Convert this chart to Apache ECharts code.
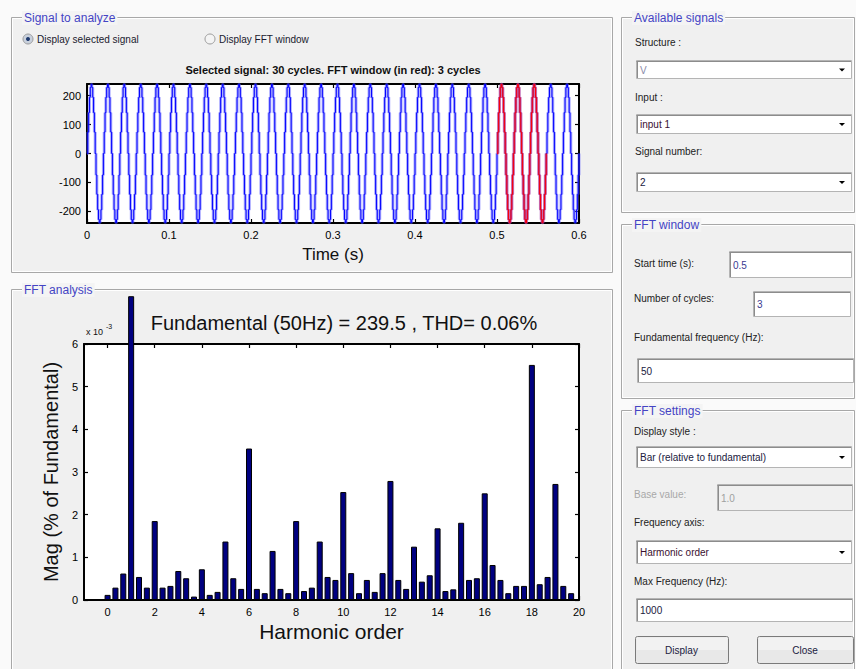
<!DOCTYPE html>
<html>
<head>
<meta charset="utf-8">
<title>FFT Analysis</title>
<script src="https://cdn.jsdelivr.net/npm/echarts@6/dist/echarts.min.js"></script>
<style>
html, body { margin: 0; padding: 0; background: #fafafa; }
#main { width: 856px; height: 669px; }
</style>
</head>
<body>
<div id="main"></div>
<script>
var cycleSamples = [0, 74, 141, 194, 228, 239.5, 228, 194, 141, 74,
                    0, -74, -141, -194, -228, -239.5, -228, -194, -141, -74];
var numCycles = 30;
var samplePeriod = 0.001;
var fftStart = 0.5;
var fftCycles = 3;
var timeTicks = [0, 0.1, 0.2, 0.3, 0.4, 0.5, 0.6];
var voltTicks = [-200, -100, 0, 100, 200];

// spectrum, x 10^-3 (% of fundamental), one bin every 1/3 harmonic
// the fundamental bar runs off the top of the axes, the visible part is kept
var magnitudes = [0.12, 0.29, 0.62, 7.12, 0.54, 0.29, 1.85, 0.29, 0.33, 0.68,
                  0.51, 0.08, 0.72, 0.12, 0.19, 1.37, 0.51, 0.26, 3.55, 0.26,
                  0.16, 1.15, 0.26, 0.16, 1.85, 0.21, 0.29, 1.37, 0.54, 0.47,
                  2.53, 0.63, 0.16, 0.47, 0.19, 0.63, 2.79, 0.47, 0.26, 1.25,
                  0.43, 0.58, 1.68, 0.21, 0.25, 1.81, 0.47, 0.51, 2.50, 0.82,
                  0.47, 0.16, 0.33, 0.33, 5.51, 0.37, 0.54, 2.72, 0.33, 0.16];
var binsPerHarmonic = 3;
var harmonicTicks = [0, 2, 4, 6, 8, 10, 12, 14, 16, 18, 20];
var magTicks = [0, 1, 2, 3, 4, 5, 6];

var FONT = '"Liberation Sans", Arial, sans-serif';

// build the signal points
var sigData = [];
var redData = [];
var n = cycleSamples.length;
for (var i = 0; i <= numCycles * n; i++) {
    var t = +(i * samplePeriod).toFixed(4);
    var v = cycleSamples[i % n];
    sigData.push([t, v]);
    if (t >= fftStart - 1e-9 && t <= fftStart + fftCycles * n * samplePeriod + 1e-9) {
        redData.push([t, v]);
    }
}
var barData = magnitudes.map(function (m, k) {
    return [k / binsPerHarmonic, m];
});

// ---- GUI pieces drawn with graphic elements ----
var gfx = [];
function txt(x, y, s, o) {
    o = o || {};
    gfx.push({
        type: 'text', x: x, y: y, z: 5, silent: true,
        style: {
            text: s, fill: o.color || '#222',
            font: (o.weight || 'normal') + ' ' + (o.size || 10) + 'px ' + FONT,
            align: o.align || 'left', textAlign: o.align || 'left',
            verticalAlign: 'middle', textVerticalAlign: 'middle',
            backgroundColor: o.bg, padding: o.bg ? [1, 2, 1, 2] : 0
        }
    });
}
function rect(x, y, w, h, fill, stroke, z, r) {
    gfx.push({
        type: 'rect', z: z, silent: true,
        shape: { x: x, y: y, width: w, height: h, r: r || 0 },
        style: { fill: fill, stroke: stroke, lineWidth: 1 }
    });
}
function line(x1, y1, x2, y2, color, z) {
    gfx.push({
        type: 'line', z: z, silent: true,
        shape: { x1: x1, y1: y1, x2: x2, y2: y2 },
        style: { stroke: color, lineWidth: 1 }
    });
}
function panel(x, y, w, h, title) {
    rect(x + 0.5, y + 0.5, w, h, '#f0f0f0', '#a8a8a8', -10);
    rect(x + 1.5, y + 1.5, w - 2, h - 2, 'none', '#ffffff', -9);
    txt(x + 11, y + 1, title, { color: '#4444c4', size: 12, bg: '#f4f4f4' });
}
function field(x, y, w, h, s, o) {
    o = o || {};
    rect(x + 0.5, y + 0.5, w, h, o.disabled ? '#f0f0f0' : '#ffffff', '#b4b4b4', 1);
    line(x + 0.5, y + 1.5, x + w, y + 1.5, '#8c8c8c', 2);
    line(x + 1.5, y + 1, x + 1.5, y + h, '#8c8c8c', 2);
    txt(x + 4, y + h / 2 + 1, s, { color: o.color || '#202040', size: 10 });
    if (o.drop) {
        var cx = x + w - 9, cy = y + h / 2 + 1;
        gfx.push({
            type: 'polygon', z: 3, silent: true,
            shape: { points: [[cx - 3, cy - 1.5], [cx + 3, cy - 1.5], [cx, cy + 1.5]] },
            style: { fill: '#000' }
        });
    }
}
function button(x, y, w, h, s) {
    rect(x + 0.5, y + 0.5, w, h, '#e8e8e8', '#7a7a7a', 1, 2);
    rect(x + 1.5, y + 1.5, w - 2, h / 2 - 1, '#f2f2f2', 'none', 2);
    txt(x + w / 2, y + h / 2 + 1, s, { align: 'center', color: '#202040', size: 10 });
}
function radio(x, y, s, on) {
    gfx.push({ type: 'circle', z: 2, silent: true, shape: { cx: x, cy: y, r: 5 },
        style: { fill: on ? '#c8d0dc' : '#f4f4f4', stroke: '#9a9a9a', lineWidth: 1 } });
    if (on) {
        gfx.push({ type: 'circle', z: 3, silent: true, shape: { cx: x, cy: y, r: 2 },
            style: { fill: '#1f3a6e' } });
    }
    txt(x + 9, y, s, { size: 10, color: '#1a1a2e' });
}

panel(11, 17, 601, 255, 'Signal to analyze');
panel(11, 289, 601, 400, 'FFT analysis');
panel(621, 17, 233, 195, 'Available signals');
panel(621, 224, 233, 174, 'FFT window');
panel(621, 410, 233, 280, 'FFT settings');

radio(28, 39, 'Display selected signal', true);
radio(210, 39, 'Display FFT window', false);

txt(635, 42, 'Structure :');
field(636, 60, 215, 18, 'V', { drop: true, color: '#8a8aa8' });
txt(635, 97, 'Input :');
field(636, 114, 215, 19, 'input 1', { drop: true, color: '#3a1030' });
txt(635, 151, 'Signal number:');
field(636, 172, 215, 19, '2', { drop: true });

txt(634, 263, 'Start time (s):');
field(729, 251, 122, 26, '0.5', { color: '#3a3a90' });
txt(634, 298, 'Number of cycles:');
field(753, 291, 97, 25, '3', { color: '#3a3a90' });
txt(634, 337, 'Fundamental frequency (Hz):');
field(637, 358, 216, 24, '50');

txt(634, 431, 'Display style :');
field(636, 446, 215, 21, 'Bar (relative to fundamental)', { drop: true });
txt(634, 494, 'Base value:', { color: '#a8a8a8' });
field(717, 484, 135, 26, '1.0', { disabled: true, color: '#a0a0a0' });
txt(634, 522, 'Frequency axis:');
field(636, 540, 215, 23, 'Harmonic order', { drop: true, color: '#3a1030' });
txt(634, 581, 'Max Frequency (Hz):');
field(636, 598, 216, 23, '1000');
button(635, 636, 93, 27, 'Display');
button(757, 636, 96, 27, 'Close');

// scale factor note above the spectrum y axis
txt(86, 332, 'x 10', { size: 9, color: '#111' });
txt(106, 326, '-3', { size: 7, color: '#111' });

// ---- axes in MATLAB box style ----
function boxAxis(grid, min, max, pos, ticks, labels, name, nameGap, nameSize) {
    return {
        gridIndex: grid, type: 'value', min: min, max: max, position: pos,
        axisLine: { onZero: false, lineStyle: { color: '#000', width: 2 } },
        axisTick: { inside: true, length: 4, customValues: ticks, lineStyle: { color: '#000', width: 1.2 } },
        axisLabel: { show: labels, customValues: ticks, color: '#000', fontSize: 11, margin: 6 },
        splitLine: { show: false },
        name: name, nameLocation: 'middle', nameGap: nameGap,
        nameTextStyle: { fontSize: nameSize, color: '#111', fontFamily: FONT }
    };
}

var myChart = echarts.init(document.getElementById('main'), null, { renderer: 'svg' });
var option = {
    backgroundColor: '#fafafa',
    animation: false,
    textStyle: { fontFamily: FONT },
    title: [
        {
            text: 'Selected signal: ' + numCycles + ' cycles. FFT window (in red): ' + fftCycles + ' cycles',
            left: 333, top: 64, padding: 0, textAlign: 'center',
            textStyle: { fontSize: 11, fontWeight: 'bold', color: '#111', fontFamily: FONT }
        },
        {
            text: 'Fundamental (50Hz) = 239.5 , THD= 0.06%',
            left: 344, top: 313, padding: 0, textAlign: 'center',
            textStyle: { fontSize: 20, fontWeight: 'normal', color: '#111', fontFamily: FONT }
        }
    ],
    grid: [
        { left: 87, top: 84, width: 492, height: 139, show: true, backgroundColor: '#fff', borderWidth: 0 },
        { left: 84, top: 344, width: 495, height: 256, show: true, backgroundColor: '#fff', borderWidth: 0 }
    ],
    xAxis: [
        boxAxis(0, 0, 0.6, 'bottom', timeTicks, true, 'Time (s)', 23, 17),
        boxAxis(0, 0, 0.6, 'top', timeTicks, false, '', 0, 10),
        boxAxis(1, -1, 20, 'bottom', harmonicTicks, true, 'Harmonic order', 21, 21),
        boxAxis(1, -1, 20, 'top', harmonicTicks, false, '', 0, 10)
    ],
    yAxis: [
        boxAxis(0, -240, 240, 'left', voltTicks, true, '', 0, 10),
        boxAxis(0, -240, 240, 'right', voltTicks, false, '', 0, 10),
        boxAxis(1, 0, 6, 'left', magTicks, true, 'Mag (% of Fundamental)', 17, 20),
        boxAxis(1, 0, 6, 'right', magTicks, false, '', 0, 10)
    ],
    graphic: { elements: gfx },
    series: [
        {
            type: 'line', xAxisIndex: 0, yAxisIndex: 0, data: sigData, step: 'end',
            symbol: 'none', silent: true,
            lineStyle: { color: 'rgba(90,90,255,0.5)', width: 3 }
        },
        {
            type: 'line', xAxisIndex: 0, yAxisIndex: 0, data: sigData, step: 'end',
            symbol: 'none', silent: true,
            lineStyle: { color: '#0000ff', width: 1 }
        },
        {
            type: 'line', xAxisIndex: 0, yAxisIndex: 0, data: redData, step: 'end',
            symbol: 'none', silent: true,
            lineStyle: { color: 'rgba(230,40,90,0.5)', width: 3 }
        },
        {
            type: 'line', xAxisIndex: 0, yAxisIndex: 0, data: redData, step: 'end',
            symbol: 'none', silent: true,
            lineStyle: { color: '#ff0000', width: 1 }
        },
        {
            type: 'bar', xAxisIndex: 2, yAxisIndex: 2, data: barData,
            barWidth: 6, clip: false, silent: true,
            itemStyle: { color: '#000080', borderColor: '#000', borderWidth: 1 }
        }
    ]
};
myChart.setOption(option);
</script>
</body>
</html>
